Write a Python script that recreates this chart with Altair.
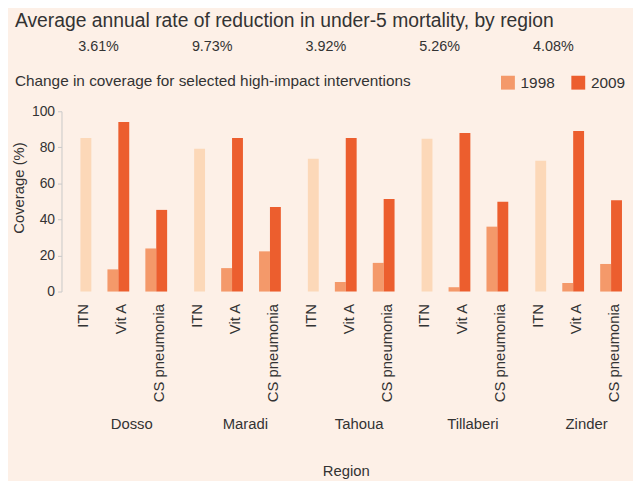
import altair as alt
import pandas as pd

# ---- data ----
regions = ["Dosso", "Maradi", "Tahoua", "Tillaberi", "Zinder"]
interventions = ["ITN", "Vit A", "CS pneumonia"]
years = ["1998", "2009"]
itn_2009 = [85.2, 79.2, 73.7, 84.7, 72.6]
vita_1998 = [12.3, 13.0, 5.3, 2.4, 4.8]
vita_2009 = [94.0, 85.2, 85.2, 88.0, 89.0]
cs_1998 = [23.9, 22.3, 15.9, 36.0, 15.3]
cs_2009 = [45.3, 46.9, 51.3, 49.8, 50.7]
reduction_rates = ["3.61%", "9.73%", "3.92%", "5.26%", "4.08%"]
y_ticks = [0, 20, 40, 60, 80, 100]

# ---- styles ----
BG = "#fdf0e7"
TXT = "#333333"
C1998 = "#f4996a"
C2009 = "#ec5e2e"
CITN = "#fcd8b8"
FONT = "Liberation Sans"

rows = []
for i, r in enumerate(regions):
    rows.append(dict(key=f"{r}|ITN", year="2009", series="ITN", value=itn_2009[i]))
    rows.append(dict(key=f"{r}|Vit A", year="1998", series="1998", value=vita_1998[i]))
    rows.append(dict(key=f"{r}|Vit A", year="2009", series="2009", value=vita_2009[i]))
    rows.append(dict(key=f"{r}|CS pneumonia", year="1998", series="1998", value=cs_1998[i]))
    rows.append(dict(key=f"{r}|CS pneumonia", year="2009", series="2009", value=cs_2009[i]))
df = pd.DataFrame(rows)
keys = [f"{r}|{iv}" for r in regions for iv in interventions]
rates = pd.DataFrame({"region": regions, "rate": reduction_rates})

bars = alt.Chart(df).mark_bar().encode(
    x=alt.X(
        "key:N",
        scale=alt.Scale(domain=keys, paddingInner=0.425, paddingOuter=0.2125),
        axis=alt.Axis(
            title=None,
            labelExpr="slice(datum.label, indexof(datum.label, '|') + 1)",
            labelAngle=-90, labelAlign="right", labelBaseline="middle",
            labelPadding=12, ticks=False, domain=False,
            labelFontSize=15, labelColor=TXT, labelOffset=3,
        ),
    ),
    xOffset=alt.XOffset("year:N", scale=alt.Scale(domain=years, paddingInner=0, paddingOuter=0)),
    y=alt.Y(
        "value:Q",
        scale=alt.Scale(domain=[0, 100]),
        axis=alt.Axis(
            values=y_ticks, title="Coverage (%)", grid=False,
            domainColor="#c8c8c8", tickColor="#c8c8c8", tickSize=4,
            labelFontSize=14, labelColor=TXT, labelPadding=3,
            titleFontSize=15, titleFontWeight="normal", titleColor=TXT,
            titlePadding=5, titleY=77,
        ),
    ),
    color=alt.Color(
        "series:N",
        scale=alt.Scale(domain=["1998", "2009", "ITN"], range=[C1998, C2009, CITN]),
        legend=alt.Legend(
            values=["1998", "2009"], title=None, orient="none", direction="horizontal",
            legendX=443, legendY=-37, symbolType="square", symbolSize=196,
            symbolStrokeWidth=0, symbolOpacity=1, labelFontSize=15.5, labelColor=TXT,
            columnPadding=16, labelOffset=5,
        ),
    ),
)

rate_text = alt.Chart(rates).mark_text(fontSize=14.5, dx=-20, color=TXT, font=FONT).encode(
    x=alt.X(
        "region:N",
        scale=alt.Scale(domain=regions, paddingInner=0, paddingOuter=0),
        axis=alt.Axis(
            orient="bottom", offset=120, title="Region", ticks=False, domain=False,
            labelPadding=6, labelFontSize=15, labelColor=TXT, labelOffset=13, labelAngle=0,
            titlePadding=33, titleFontSize=15, titleFontWeight="normal", titleColor=TXT,
        ),
    ),
    y=alt.value(-65),
    text="rate:N",
)

chart = alt.layer(bars, rate_text).resolve_scale(x="independent").properties(
    width=574,
    height=182,
    padding={"left": 54, "top": 102, "right": 3, "bottom": 189},
    autosize=alt.AutoSizeParams(type="none"),
    title=alt.Title(
        text="Average annual rate of reduction in under-5 mortality, by region",
        subtitle="Change in coverage for selected high-impact interventions",
        anchor="start", frame="group", dx=-47, offset=-52, fontSize=19.5, fontWeight="normal",
        color=TXT, font=FONT, subtitleFont=FONT, subtitleFontSize=15.5,
        subtitleColor=TXT, subtitlePadding=43,
    ),
).configure(
    background=BG, font=FONT,
).configure_view(stroke=None)

chart.save("out.html", embed_options={"renderer": "svg", "actions": False})
